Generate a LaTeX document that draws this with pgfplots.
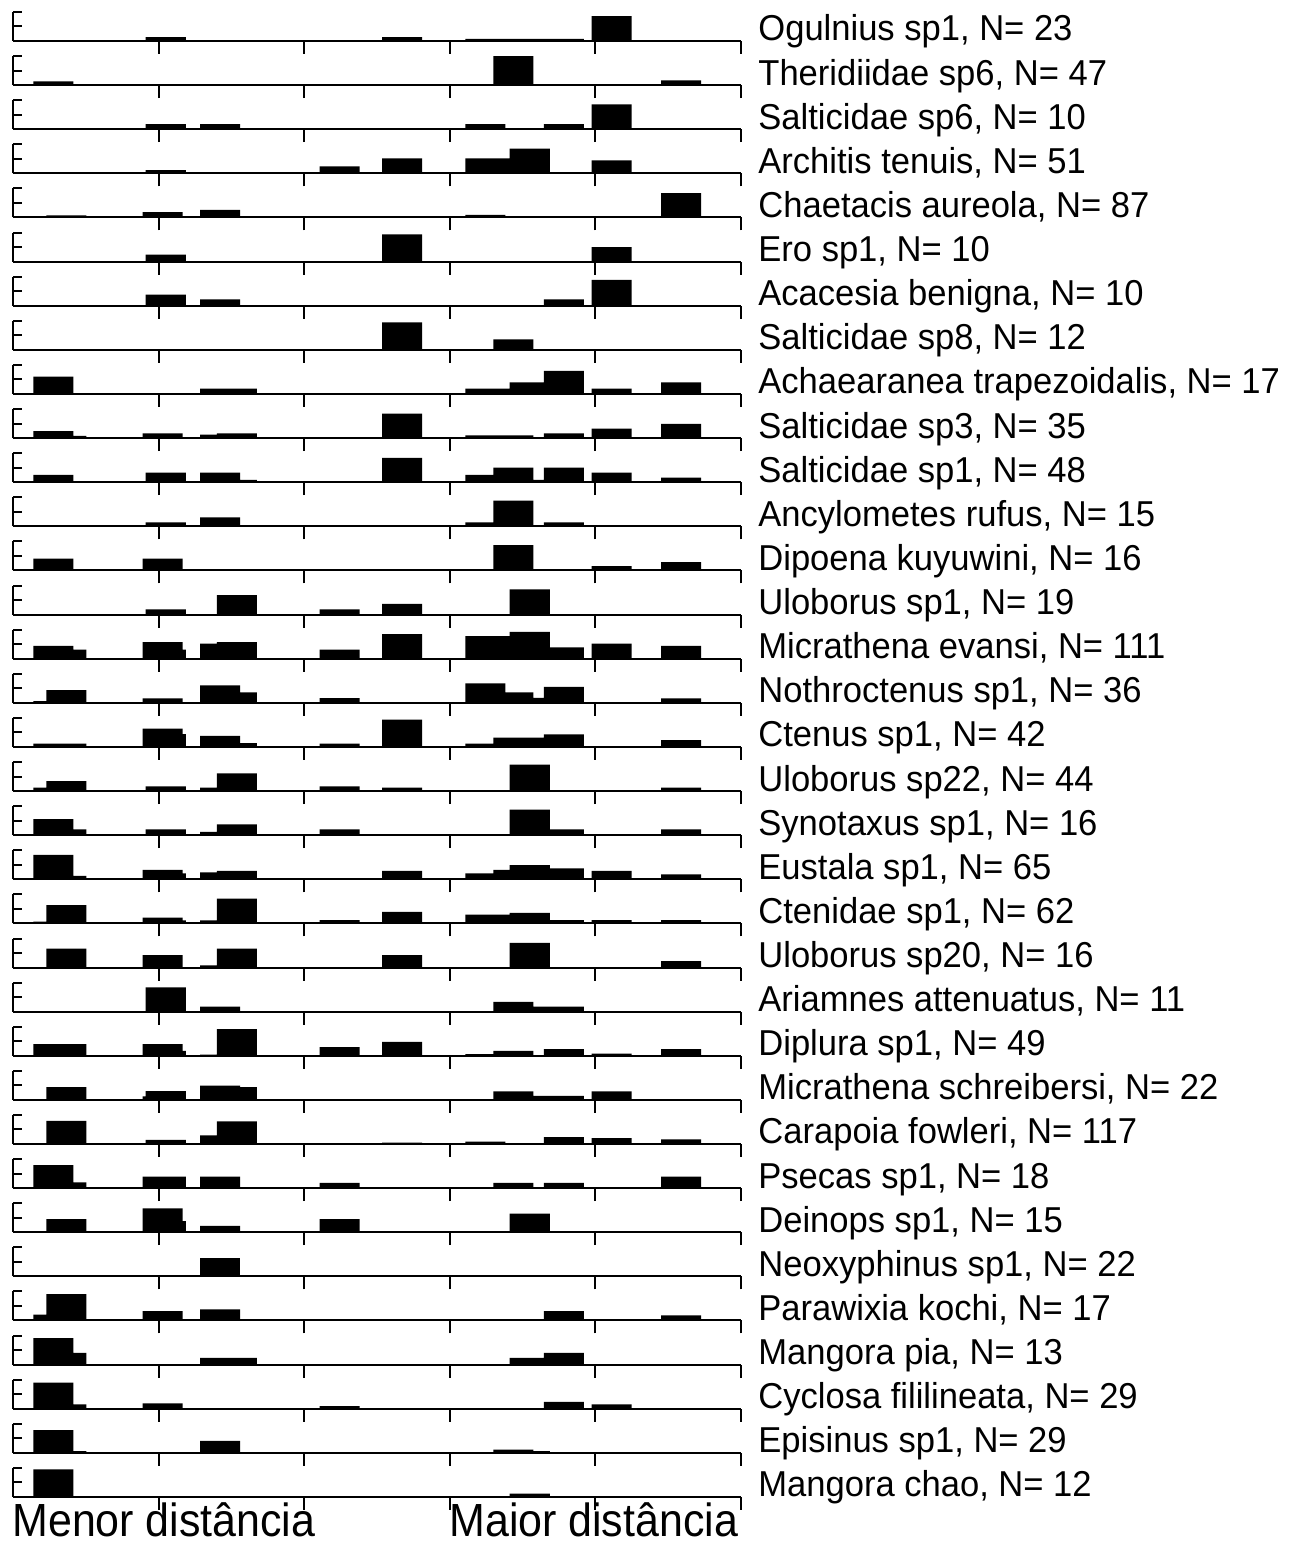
\documentclass[border=0pt]{standalone}
\usepackage{pgfplots}
\pgfplotsset{compat=1.18}
\usepackage{graphicx}
\usepackage{fontspec}
\setmainfont{Liberation Sans}
\newcommand\lab[1]{\scalebox{0.96}[1]{\fontsize{18pt}{20pt}\selectfont #1}}
\newcommand\bottomlab[1]{\scalebox{0.923}[1]{\fontsize{23.25pt}{26pt}\selectfont #1}}
\pgfplotsset{
  rowax/.style={
    scale only axis, width=364pt, height=14.5pt,
    xmin=0, xmax=5, ymin=0, ymax=1,
    axis x line*=bottom, axis y line*=left,
    axis line style={line width=1pt, -, black},
    xtick={1,2,3,4,5}, ytick={0,0.5,1},
    minor xtick={1,2,3,4,5},
    xticklabels={}, yticklabels={},
    tick align=inside,
    major tick length=4.5pt, minor tick length=6.5pt,
    major tick style={line width=1pt, black},
    minor tick style={line width=1pt, black},
    clip=false,
    ybar, bar width=0.275,
  }
}
\newcommand\spider[3]{%
  \pgfmathsetmacro\yy{751.5-22.06*#1}%
  \begin{axis}[rowax, at={(6.5pt,\yy pt)}, anchor=south west]
    \addplot[fill=black, draw=none] coordinates {#3};
    \node[anchor=base west, inner sep=0pt] at (axis cs:5,0) [xshift=8.5pt] {\lab{#2}};
  \end{axis}}
\begin{document}
\begin{tikzpicture}
\path[use as bounding box] (0pt,0pt) rectangle (648.5pt,772pt);
\spider{0}{Ogulnius sp1, N= 23}{(1.049,0.13) (2.673,0.13) (3.244,0.07) (3.437,0.07) (3.549,0.07) (3.783,0.07) (4.112,0.86)}
\spider{1}{Theridiidae sp6, N= 47}{(0.278,0.126) (3.437,1.0) (4.589,0.16)}
\spider{2}{Salticidae sp6, N= 10}{(1.049,0.18) (1.422,0.18) (3.244,0.18) (3.783,0.18) (4.112,0.86)}
\spider{3}{Architis tenuis, N= 51}{(1.049,0.115) (1.422,0.046) (1.538,0.046) (2.243,0.24) (2.673,0.52) (3.244,0.52) (3.437,0.52) (3.549,0.85) (3.783,0.046) (4.112,0.45)}
\spider{4}{Chaetacis aureola, N= 87}{(0.367,0.07) (1.027,0.18) (1.422,0.26) (2.243,0.05) (3.244,0.09) (3.437,0.035) (4.112,0.035) (4.589,0.84)}
\spider{5}{Ero sp1, N= 10}{(1.049,0.24) (2.673,0.94) (4.112,0.5)}
\spider{6}{Acacesia benigna, N= 10}{(1.049,0.38) (1.422,0.22) (3.783,0.22) (4.112,0.89)}
\spider{7}{Salticidae sp8, N= 12}{(2.673,0.95) (3.437,0.36)}
\spider{8}{Achaearanea trapezoidalis, N= 17}{(0.278,0.6) (1.422,0.18) (1.538,0.18) (3.244,0.18) (3.437,0.18) (3.549,0.4) (3.783,0.8) (4.112,0.18) (4.589,0.4)}
\spider{9}{Salticidae sp3, N= 35}{(0.278,0.24) (0.367,0.08) (1.027,0.16) (1.422,0.12) (1.538,0.16) (2.673,0.84) (3.244,0.09) (3.437,0.09) (3.783,0.16) (4.112,0.33) (4.589,0.49)}
\spider{10}{Salticidae sp1, N= 48}{(0.278,0.25) (1.049,0.33) (1.422,0.33) (1.538,0.08) (2.673,0.84) (3.244,0.25) (3.437,0.5) (3.549,0.08) (3.783,0.5) (4.112,0.33) (4.589,0.16)}
\spider{11}{Ancylometes rufus, N= 15}{(1.049,0.14) (1.422,0.31) (3.244,0.14) (3.437,0.89) (3.783,0.14)}
\spider{12}{Dipoena kuyuwini, N= 16}{(0.278,0.41) (1.027,0.41) (3.437,0.87) (4.112,0.15) (4.589,0.29)}
\spider{13}{Uloborus sp1, N= 19}{(1.049,0.18) (1.538,0.67) (2.243,0.18) (2.673,0.37) (3.549,0.87)}
\spider{14}{Micrathena evansi, N= 111}{(0.278,0.44) (0.367,0.31) (1.027,0.57) (1.049,0.31) (1.422,0.52) (1.538,0.57) (2.243,0.31) (2.673,0.85) (3.244,0.78) (3.437,0.78) (3.549,0.92) (3.783,0.39) (4.112,0.52) (4.589,0.44)}
\spider{15}{Nothroctenus sp1, N= 36}{(0.278,0.06) (0.367,0.44) (1.027,0.15) (1.422,0.6) (1.538,0.36) (2.243,0.16) (3.244,0.67) (3.437,0.36) (3.549,0.17) (3.783,0.55) (4.589,0.15)}
\spider{16}{Ctenus sp1, N= 42}{(0.278,0.115) (0.367,0.115) (1.027,0.63) (1.049,0.44) (1.422,0.38) (1.538,0.13) (2.243,0.115) (2.673,0.94) (3.244,0.115) (3.437,0.32) (3.549,0.32) (3.783,0.43) (4.589,0.23)}
\spider{17}{Uloborus sp22, N= 44}{(0.278,0.115) (0.367,0.34) (1.049,0.16) (1.422,0.115) (1.538,0.61) (2.243,0.16) (2.673,0.115) (3.549,0.91) (4.589,0.115)}
\spider{18}{Synotaxus sp1, N= 16}{(0.278,0.55) (0.367,0.2) (1.049,0.2) (1.422,0.11) (1.538,0.37) (2.243,0.2) (3.549,0.88) (3.783,0.2) (4.589,0.2)}
\spider{19}{Eustala sp1, N= 65}{(0.278,0.84) (0.367,0.115) (1.027,0.32) (1.049,0.2) (1.422,0.24) (1.538,0.29) (2.673,0.29) (3.244,0.2) (3.437,0.32) (3.549,0.49) (3.783,0.38) (4.112,0.29) (4.589,0.17)}
\spider{20}{Ctenidae sp1, N= 62}{(0.278,0.06) (0.367,0.63) (1.027,0.2) (1.049,0.1) (1.422,0.1) (1.538,0.85) (2.243,0.115) (2.673,0.4) (3.244,0.3) (3.437,0.3) (3.549,0.36) (3.783,0.115) (4.112,0.115) (4.589,0.115)}
\spider{21}{Uloborus sp20, N= 16}{(0.367,0.65) (1.027,0.43) (1.422,0.07) (1.538,0.65) (2.673,0.43) (3.549,0.85) (4.589,0.22)}
\spider{22}{Ariamnes attenuatus, N= 11}{(1.049,0.84) (1.422,0.17) (3.437,0.34) (3.549,0.17) (3.783,0.17)}
\spider{23}{Diplura sp1, N= 49}{(0.278,0.4) (0.367,0.4) (1.027,0.4) (1.049,0.17) (1.422,0.04) (1.538,0.92) (2.243,0.3) (2.673,0.48) (3.244,0.06) (3.437,0.17) (3.783,0.23) (4.112,0.07) (4.589,0.23)}
\spider{24}{Micrathena schreibersi, N= 22}{(0.367,0.44) (1.027,0.12) (1.049,0.3) (1.422,0.49) (1.538,0.44) (3.437,0.29) (3.549,0.14) (3.783,0.14) (4.112,0.29)}
\spider{25}{Carapoia fowleri, N= 117}{(0.367,0.8) (1.049,0.14) (1.422,0.3) (1.538,0.78) (2.673,0.05) (3.244,0.08) (3.783,0.24) (4.112,0.2) (4.589,0.16)}
\spider{26}{Psecas sp1, N= 18}{(0.278,0.79) (0.367,0.2) (1.027,0.4) (1.049,0.4) (1.422,0.4) (2.243,0.18) (3.437,0.18) (3.783,0.18) (4.589,0.4)}
\spider{27}{Deinops sp1, N= 15}{(0.367,0.45) (1.027,0.82) (1.049,0.38) (1.422,0.22) (2.243,0.45) (3.549,0.64)}
\spider{28}{Neoxyphinus sp1, N= 22}{(1.422,0.64)}
\spider{29}{Parawixia kochi, N= 17}{(0.278,0.2) (0.367,0.91) (1.027,0.32) (1.422,0.38) (3.783,0.32) (4.589,0.18)}
\spider{30}{Mangora pia, N= 13}{(0.278,0.91) (0.367,0.4) (1.422,0.23) (1.538,0.23) (3.549,0.23) (3.783,0.4)}
\spider{31}{Cyclosa fililineata, N= 29}{(0.278,0.9) (0.367,0.15) (1.027,0.18) (2.243,0.09) (3.783,0.24) (4.112,0.15)}
\spider{32}{Episinus sp1, N= 29}{(0.278,0.78) (0.367,0.06) (1.422,0.41) (3.437,0.115) (3.549,0.06)}
\spider{33}{Mangora chao, N= 12}{(0.278,0.95) (3.549,0.115)}
\node[anchor=base west, inner sep=0pt] at (6pt,4pt) {\bottomlab{Menor distância}};
\node[anchor=base west, inner sep=0pt] at (224.5pt,4pt) {\bottomlab{Maior distância}};
\end{tikzpicture}
\end{document}
